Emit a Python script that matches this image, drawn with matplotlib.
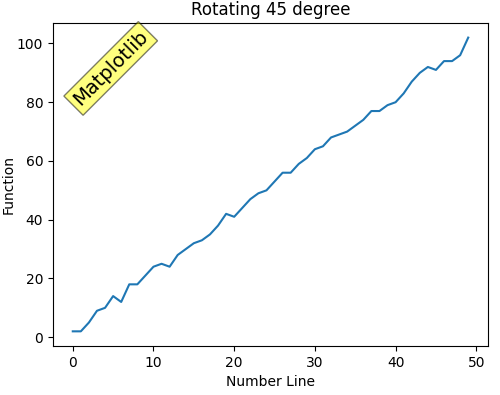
import matplotlib
matplotlib.use("Agg")
import matplotlib.pyplot as plt

x = list(range(50))
y = [2, 2, 5, 9, 10, 14, 12, 18, 18, 21,
     24, 25, 24, 28, 30, 32, 33, 35, 38, 42,
     41, 44, 47, 49, 50, 53, 56, 56, 59, 61,
     64, 65, 68, 69, 70, 72, 74, 77, 77, 79,
     80, 83, 87, 90, 92, 91, 94, 94, 96, 102]

fig, ax = plt.subplots(figsize=(5, 3.95), dpi=100)
fig.subplots_adjust(left=0.106, right=0.976, top=0.942, bottom=0.124)

ax.plot(x, y)
ax.text(4.7, 91.5, 'Matplotlib', fontsize=14, rotation=45,
        ha='center', va='center',
        bbox=dict(facecolor='yellow', alpha=0.5, edgecolor='black', pad=3))

ax.set_title('Rotating 45 degree')
ax.set_xlabel('Number Line')
ax.set_ylabel('Function', labelpad=1)

fig.savefig('out.png')
